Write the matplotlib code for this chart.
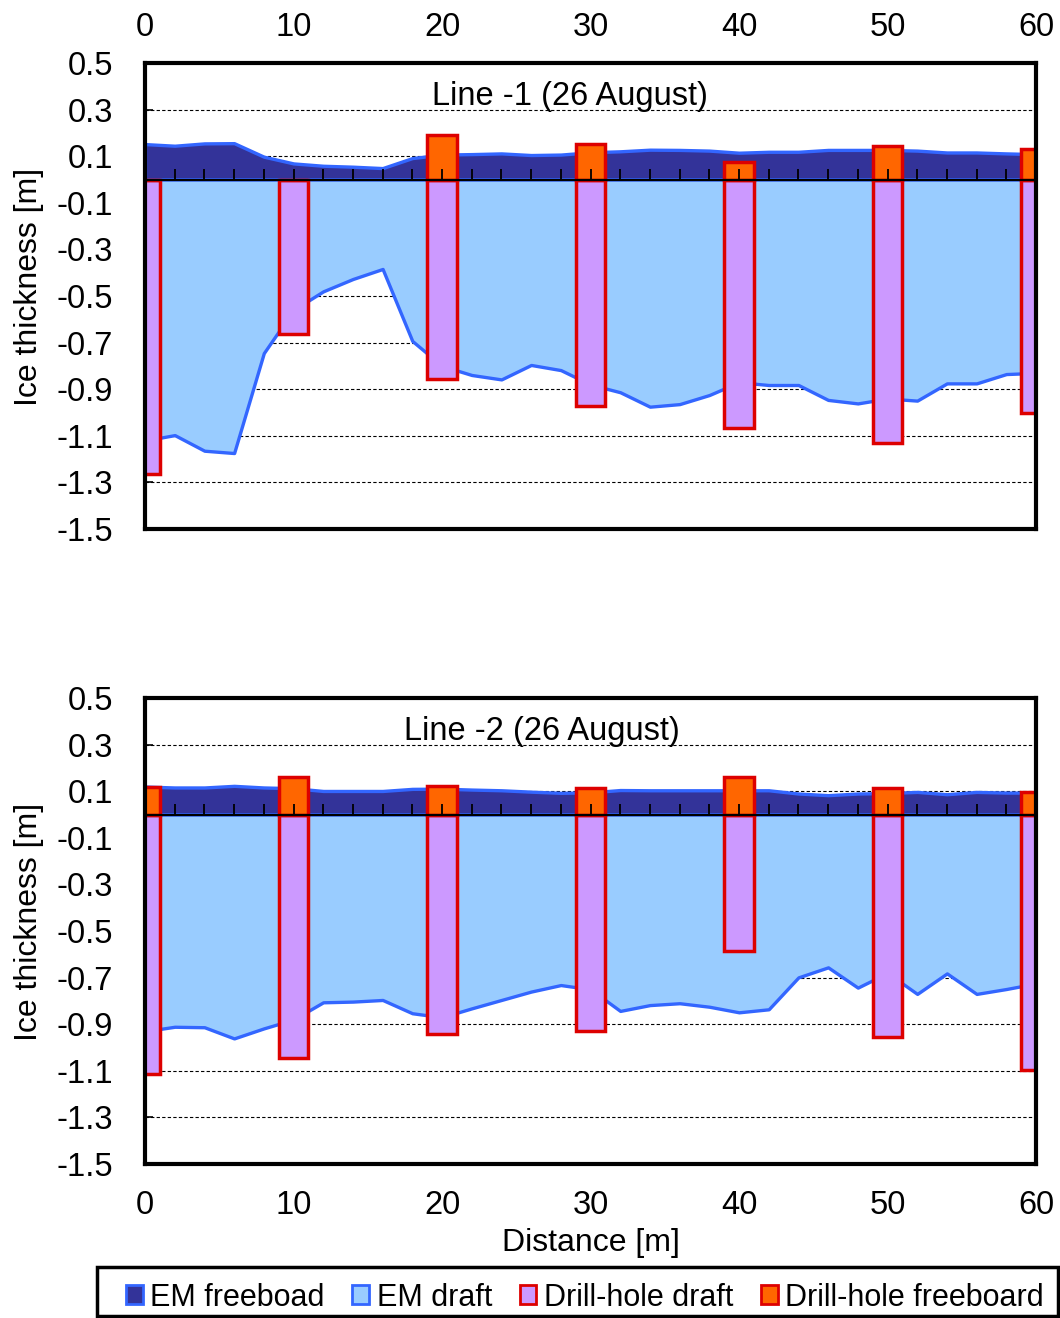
import matplotlib
matplotlib.use('Agg')
import matplotlib.pyplot as plt
import numpy as np
from matplotlib.patches import Patch, Rectangle
from matplotlib.ticker import FormatStrFormatter

plt.rcParams['font.family'] = ['Liberation Sans', 'DejaVu Sans']
FS_TICK = 23.5
FS_LABEL = 23
FS_LEG = 22

# ---------------- data ----------------
distance_em = list(range(0, 61, 2))
distance_drill = [0, 10, 20, 30, 40, 50, 60]

# Line -1
em_freeboard_1 = [0.152, 0.145, 0.155, 0.156, 0.098, 0.069, 0.059, 0.055, 0.049, 0.092,
                  0.107, 0.109, 0.112, 0.105, 0.107, 0.117, 0.121, 0.128, 0.127, 0.124,
                  0.115, 0.119, 0.119, 0.127, 0.127, 0.127, 0.124, 0.116, 0.116, 0.112, 0.109]
em_draft_1 = [-1.12, -1.097, -1.164, -1.174, -0.745, -0.56, -0.48, -0.427, -0.384, -0.693,
              -0.80, -0.839, -0.858, -0.796, -0.818, -0.88, -0.913, -0.975, -0.964, -0.925,
              -0.87, -0.882, -0.882, -0.946, -0.961, -0.94, -0.949, -0.875, -0.875, -0.835, -0.83]
drill_draft_1 = [-1.265, -0.665, -0.855, -0.97, -1.065, -1.13, -1.0]
drill_freeboard_1 = [0.0, 0.0, 0.192, 0.152, 0.074, 0.142, 0.132]

# Line -2
em_freeboard_2 = [0.120, 0.116, 0.116, 0.123, 0.116, 0.113, 0.101, 0.101, 0.101, 0.110,
                  0.111, 0.107, 0.104, 0.098, 0.093, 0.095, 0.105, 0.104, 0.104, 0.104,
                  0.104, 0.104, 0.090, 0.083, 0.090, 0.092, 0.097, 0.087, 0.097, 0.094, 0.094]
em_draft_2 = [-0.93, -0.911, -0.913, -0.961, -0.918, -0.88, -0.806, -0.803, -0.796, -0.853,
              -0.87, -0.832, -0.796, -0.76, -0.732, -0.75, -0.843, -0.818, -0.81, -0.825,
              -0.849, -0.836, -0.699, -0.656, -0.743, -0.68, -0.77, -0.682, -0.77, -0.749, -0.725]
drill_draft_2 = [-1.115, -1.045, -0.943, -0.93, -0.585, -0.955, -1.097]
drill_freeboard_2 = [0.116, 0.163, 0.123, 0.113, 0.163, 0.113, 0.095]

y_ticks = [0.5, 0.3, 0.1, -0.1, -0.3, -0.5, -0.7, -0.9, -1.1, -1.3, -1.5]
x_ticks = [0, 10, 20, 30, 40, 50, 60]
zero_ticks = list(range(0, 61, 2))

legend_labels = ['EM freeboad', 'EM draft', 'Drill-hole draft', 'Drill-hole freeboard']

# ---------------- style ----------------
NAVY = '#333399'
LIGHT = '#99CCFF'
LINE = '#3366FF'
PURPLE = '#CC99FF'
ORANGE = '#FF6600'
RED = '#DD0000'

fig = plt.figure(figsize=(10.6, 13.18), dpi=100)
L = 145 / 1060
W = 891 / 1060
H = 466 / 1318
ax1 = fig.add_axes([L, (1318 - 529) / 1318, W, H])
ax2 = fig.add_axes([L, (1318 - 1164) / 1318, W, H])


def panel(ax, fb, dr, dd, df, title, title_x, top):
    ax.set_xlim(0, 60)
    ax.set_ylim(-1.5, 0.5)
    ax.set_axisbelow(True)
    ax.fill_between(distance_em, 0, fb, facecolor=NAVY, edgecolor=LINE,
                    linewidth=2.4, zorder=2)
    ax.fill_between(distance_em, dr, 0, facecolor=LIGHT, edgecolor=LINE,
                    linewidth=2.4, zorder=2)
    ax.bar(distance_drill, dd, width=2, color=PURPLE, edgecolor=RED,
           linewidth=2.5, zorder=3)
    ax.bar(distance_drill, df, width=2, color=ORANGE, edgecolor=RED,
           linewidth=2.5, zorder=3)
    # zero axis with small upward ticks
    ax.axhline(0, color='black', linewidth=1.6, zorder=5)
    ax.plot(zero_ticks, [0] * len(zero_ticks), linestyle='none', marker=2,
            markersize=8, markeredgewidth=1.3, color='black', zorder=5)

    ax.set_yticks(y_ticks)
    ax.yaxis.set_major_formatter(FormatStrFormatter('%.1f'))
    ax.set_xticks(x_ticks)
    ax.tick_params(axis='y', direction='in', length=6, width=1.2,
                   labelsize=FS_TICK, pad=23)
    if top:
        ax.xaxis.tick_top()
        ax.tick_params(axis='x', length=0, labelsize=FS_TICK, pad=14.5)
    else:
        ax.tick_params(axis='x', length=0, labelsize=FS_TICK, pad=18.5)
    ax.yaxis.grid(True, linestyle=(0, (3, 2)), color='black', linewidth=0.8)
    for s in ax.spines.values():
        s.set_linewidth(3)
        s.set_zorder(6)
    ax.set_ylabel('Ice thickness [m]', fontsize=FS_LABEL)
    ax.yaxis.set_label_coords(-0.113, 0.52)
    ax.text(title_x, 0.358, title, ha='center', va='center', fontsize=FS_TICK, zorder=6)


panel(ax1, em_freeboard_1, em_draft_1, drill_draft_1, drill_freeboard_1,
      'Line -1 (26 August)', 28.6, True)
panel(ax2, em_freeboard_2, em_draft_2, drill_draft_2, drill_freeboard_2,
      'Line -2 (26 August)', 26.7, False)
ax2.set_xlabel('Distance [m]', fontsize=FS_LABEL, labelpad=5)

# legend frame
fig.add_artist(Rectangle((97 / 1060, 2 / 1318), 961 / 1060, 49 / 1318,
                         transform=fig.transFigure, facecolor='white',
                         edgecolor='black', linewidth=2.5, zorder=1))

handles = [Patch(facecolor=NAVY, edgecolor=LINE, linewidth=2),
           Patch(facecolor=LIGHT, edgecolor=LINE, linewidth=2),
           Patch(facecolor=PURPLE, edgecolor=RED, linewidth=2),
           Patch(facecolor=ORANGE, edgecolor=RED, linewidth=2)]
leg = fig.legend(handles, legend_labels, loc='center',
                 bbox_to_anchor=(585 / 1060, 1 - 1297.5 / 1318), ncol=4,
                 fontsize=FS_LEG, frameon=False,
                 handlelength=0.55, handleheight=0.55, handletextpad=0.25,
                 columnspacing=0.9, borderpad=0.2, borderaxespad=0)
leg.set_zorder(3)

fig.savefig('out.png', dpi=100)
